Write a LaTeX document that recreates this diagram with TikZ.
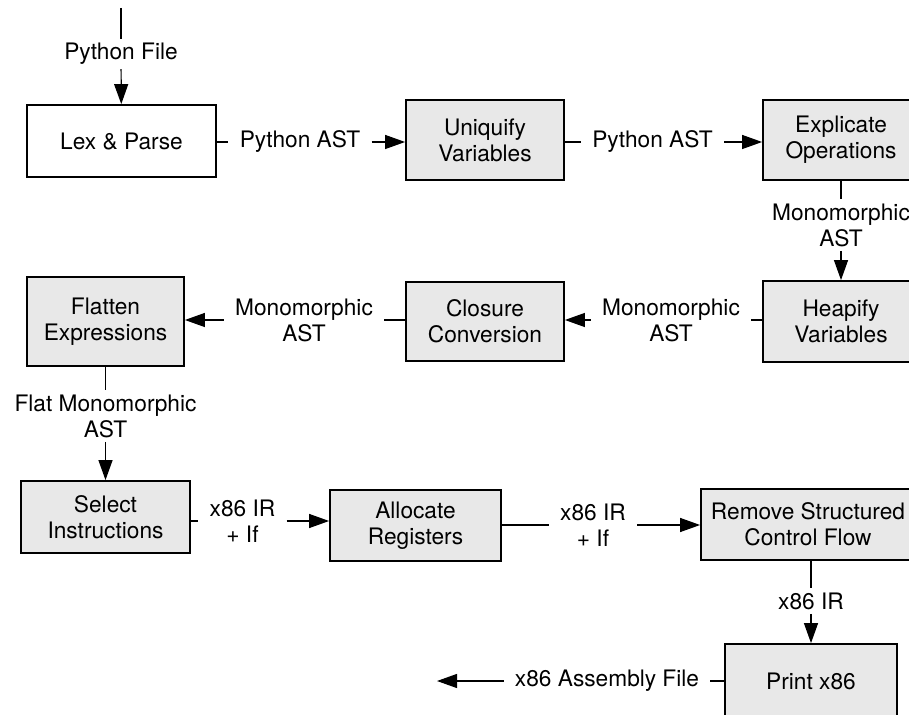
\documentclass[tikz,border=0pt]{standalone}
\usepackage{fontspec}
\setmainfont{TeX Gyre Heros}
\usetikzlibrary{arrows.meta}
\definecolor{passgray}{RGB}{232, 232, 232}

\begin{document}
\begin{tikzpicture}[
    x=0.5pt, y=-0.5pt,
    font=\fontsize{11.35}{13}\selectfont,
    pass/.style={rectangle, draw=black, fill=passgray, line width=0.9pt, align=center},
    frontend/.style={pass, fill=white},
    flow/.style={rectangle, inner xsep=5.5pt, inner ysep=2pt, align=center},
    wire/.style={line width=0.6pt},
    feed/.style={wire, -{Triangle[length=10pt, width=7pt]}}
]
    \useasboundingbox (0,0) rectangle (909,715);

    % Row 1 - front end
    \coordinate (src) at (121,8);
    \node[frontend, minimum width=94.5pt, minimum height=36pt] (lex) at (121.5,141) {Lex \& Parse};
    \node[pass, minimum width=79pt, minimum height=40pt] (uniq) at (485,140) {Uniquify\\Variables};
    \node[pass, minimum width=78pt, minimum height=40pt] (expl) at (841,140) {Explicate\\Operations};

    % Row 2 - runs right to left
    \node[pass, minimum width=78pt, minimum height=40.5pt] (heap) at (841,321.5) {Heapify\\Variables};
    \node[pass, minimum width=79pt, minimum height=39.5pt] (clos) at (485,321.5) {Closure\\Conversion};
    \node[pass, minimum width=78.5pt, minimum height=44.5pt] (flat) at (105.5,321.5) {Flatten\\Expressions};

    % Row 3 - back end
    \node[pass, minimum width=84.5pt, minimum height=36pt] (sel) at (105.5,517) {Select\\Instructions};
    \node[pass, minimum width=85.5pt, minimum height=35.5pt] (alloc) at (415.5,525.5) {Allocate\\Registers};
    \node[pass, minimum width=107pt, minimum height=35.5pt] (rmcf) at (808,524.5) {Remove Structured\\Control Flow};
    \node[pass, minimum width=86pt, minimum height=37pt] (prt) at (811,681) {Print x86};
    \coordinate (asm) at (437,681);

    % Labels on the connectors
    \node[flow] (pyfile) at (121,54) {Python File};
    \node[flow] (ast1) at (300,142) {Python AST};
    \node[flow] (ast2) at (652.5,142) {Python AST};
    \node[flow] (mono1) at (841,225) {Monomorphic\\AST};
    \node[flow] (mono2) at (671,320) {Monomorphic\\AST};
    \node[flow] (mono3) at (304,320) {Monomorphic\\AST};
    \node[flow] (flatast) at (105.5,416) {Flat Monomorphic\\AST};
    \node[flow] (ir1) at (242.5,521) {x86 IR\\+ If};
    \node[flow] (ir2) at (593,525) {x86 IR\\+ If};
    \node[flow] (ir3) at (811,601) {x86 IR};
    \node[flow] (asmfile) at (607,681) {x86 Assembly File};

    % Connectors
    \draw[wire] (src) -- (pyfile);
    \draw[feed] (pyfile) -- (lex);
    \draw[wire] (lex.east |- ast1) -- (ast1);
    \draw[feed] (ast1) -- (uniq.west |- ast1);
    \draw[wire] (uniq.east |- ast2) -- (ast2);
    \draw[feed] (ast2) -- (expl.west |- ast2);
    \draw[wire] (expl) -- (mono1);
    \draw[feed] (mono1) -- (heap);
    \draw[wire] (heap.west |- mono2) -- (mono2);
    \draw[feed] (mono2) -- (clos.east |- mono2);
    \draw[wire] (clos.west |- mono3) -- (mono3);
    \draw[feed] (mono3) -- (flat.east |- mono3);
    \draw[wire] (flat) -- (flatast);
    \draw[feed] (flatast) -- (sel);
    \draw[wire] (sel.east |- ir1) -- (ir1);
    \draw[feed] (ir1) -- (alloc.west |- ir1);
    \draw[wire] (alloc.east |- ir2) -- (ir2);
    \draw[feed] (ir2) -- (rmcf.west |- ir2);
    \draw[wire] (rmcf.south -| ir3) -- (ir3);
    \draw[feed] (ir3) -- (prt);
    \draw[wire] (prt.west |- asmfile) -- (asmfile);
    \draw[feed] (asmfile) -- (asm);

\end{tikzpicture}
\end{document}
